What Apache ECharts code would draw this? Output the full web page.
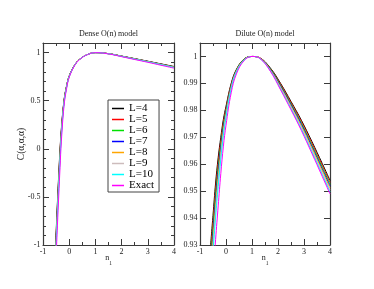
<!DOCTYPE html>
<html>
<head>
<meta charset="utf-8">
<script src="https://cdn.jsdelivr.net/npm/echarts@6/dist/echarts.min.js"></script>
<style>
html,body{margin:0;padding:0;background:#fff;}
#c{width:374px;height:289px;}
</style>
</head>
<body>
<div id="c"></div>
<script>
// ---------- data ----------
const seriesNames = ['L=4','L=5','L=6','L=7','L=8','L=9','L=10','Exact'];
const xTicks = [-1, 0, 1, 2, 3, 4];

const nDense = [-0.55,-0.5,-0.45,-0.4,-0.35,-0.3,-0.2,-0.1,0,0.2,0.4,0.7,1,1.5,2,2.5,3,3.5,4];
const denseL4  = [-1.19,-0.875,-0.56,-0.27,-0.005,0.205,0.50,0.655,0.7575,0.868,0.9315,0.9805,1.0,0.9895,0.964,0.9375,0.9105,0.883,0.8555];
const denseL5  = [-1.216,-0.90,-0.584,-0.292,-0.024,0.192,0.494,0.652,0.756,0.8674,0.9312,0.9804,1.0,0.9892,0.9634,0.9366,0.9094,0.8816,0.8538];
const denseL6  = [-1.242,-0.925,-0.608,-0.314,-0.043,0.179,0.488,0.649,0.7545,0.8668,0.9309,0.9803,1.0,0.9889,0.9628,0.9357,0.9083,0.8802,0.8521];
const denseL7  = [-1.268,-0.95,-0.632,-0.336,-0.062,0.166,0.482,0.646,0.753,0.8662,0.9306,0.9802,1.0,0.9886,0.9622,0.9348,0.9072,0.8788,0.8504];
const denseL8  = [-1.294,-0.975,-0.656,-0.358,-0.081,0.153,0.476,0.643,0.7515,0.8656,0.9303,0.9801,1.0,0.9883,0.9616,0.9339,0.9061,0.8774,0.8487];
const denseL9  = [-1.32,-1.0,-0.68,-0.38,-0.10,0.14,0.47,0.64,0.75,0.865,0.93,0.98,1.0,0.988,0.961,0.933,0.905,0.876,0.847];
const denseL10 = [-1.346,-1.025,-0.704,-0.402,-0.119,0.127,0.464,0.637,0.7485,0.8644,0.9297,0.9799,1.0,0.9877,0.9604,0.9321,0.9039,0.8746,0.8453];
const denseExact = [-1.45,-1.125,-0.80,-0.49,-0.195,0.075,0.44,0.625,0.7425,0.862,0.9285,0.9795,1.0,0.9865,0.958,0.9285,0.8995,0.869,0.8385];

const nDilute = [-0.6,-0.5,-0.4,-0.3,-0.2,-0.1,0,0.2,0.4,0.7,1,1.3,1.7,2.1,2.5,2.9,3.3,3.7,4];
const diluteL4  = [0.929,0.941,0.953,0.9625,0.970,0.9767,0.9815,0.990,0.9952,0.9991,1.0,0.9995,0.9958,0.9900,0.9833,0.9763,0.9685,0.9603,0.954];
const diluteL5  = [0.9265,0.9387,0.9509,0.9607,0.9687,0.9757,0.9808,0.9897,0.9950,0.9990,1.0,0.9995,0.9956,0.9897,0.9829,0.9758,0.9679,0.9596,0.9533];
const diluteL6  = [0.924,0.9364,0.9488,0.9589,0.9673,0.9747,0.9801,0.9893,0.9949,0.9990,1.0,0.9994,0.9955,0.9893,0.9824,0.9752,0.9672,0.9589,0.9526];
const diluteL7  = [0.9215,0.9341,0.9467,0.9571,0.9660,0.9737,0.9794,0.9890,0.9947,0.9989,1.0,0.9994,0.9953,0.9890,0.9820,0.9747,0.9666,0.9582,0.9519];
const diluteL8  = [0.919,0.9318,0.9446,0.9553,0.9646,0.9727,0.9787,0.9886,0.9945,0.9989,1.0,0.9994,0.9951,0.9886,0.9815,0.9741,0.9660,0.9576,0.9511];
const diluteL9  = [0.9165,0.9295,0.9425,0.9535,0.9633,0.9717,0.9780,0.9883,0.9944,0.9988,1.0,0.9994,0.9949,0.9883,0.9811,0.9736,0.9654,0.9569,0.9504];
const diluteL10 = [0.914,0.9272,0.9404,0.9517,0.9619,0.9707,0.9773,0.9879,0.9942,0.9987,1.0,0.9993,0.9948,0.9879,0.9806,0.9730,0.9647,0.9562,0.9497];
const diluteExact = [0.904,0.918,0.932,0.9445,0.9565,0.9667,0.9745,0.9865,0.9935,0.9985,1.0,0.9993,0.9946,0.9876,0.9802,0.9725,0.9641,0.9555,0.949];

// ---------- build ----------
const colors = ['#000000','#ff0000','#00e000','#0000ff','#ffa500','#cdbcbc','#00ffff','#ff00ff'];
const denseSets = [denseL4,denseL5,denseL6,denseL7,denseL8,denseL9,denseL10,denseExact];
const diluteSets = [diluteL4,diluteL5,diluteL6,diluteL7,diluteL8,diluteL9,diluteL10,diluteExact];

const FONT = 'Liberation Serif';
const AX = '#3a3a3a';

function xAx(grid, top, labels) {
  return {
    type: 'value', gridIndex: grid, position: top ? 'top' : 'bottom',
    min: -1, max: 4, interval: 1,
    axisLine: {show: true, onZero: false, lineStyle: {color: AX, width: 1.2}},
    axisTick: {show: true, inside: true, length: 6, lineStyle: {color: AX}},
    minorTick: {show: true, splitNumber: 2, length: 3, lineStyle: {color: AX}},
    splitLine: {show: false},
    axisLabel: {show: labels, margin: 3, fontFamily: FONT, fontSize: 8, color: '#222',
      formatter: v => (xTicks.indexOf(v) >= 0 ? String(v) : '')},
    name: labels ? '{n|n}{s|1}' : '', nameLocation: 'middle', nameGap: 9, nameMoveOverlap: false,
    nameTextStyle: {rich: {n: {fontFamily: FONT, fontSize: 8, color: '#222'}, s: {fontFamily: FONT, fontSize: 5.5, color: '#222', verticalAlign: 'bottom', padding: [0,0,-5,0]}}}
  };
}
function yAx(grid, right, min, max, interval, tickLen, labels, line, fmt) {
  return {
    type: 'value', gridIndex: grid, position: right ? 'right' : 'left',
    min: min, max: max, interval: interval,
    axisLine: {show: line, onZero: false, lineStyle: {color: AX, width: 1.2}},
    axisTick: {show: true, inside: true, length: tickLen, lineStyle: {color: AX}},
    splitLine: {show: false},
    axisLabel: {show: labels, margin: 2.5, fontFamily: FONT, fontSize: 8, color: '#222', showMaxLabel: false, formatter: fmt}
  };
}

const fmtDense = v => { const r = Math.round(v*10)/10; return String(r); };
const fmtDilute = v => { const r = Math.round(v*100)/100; return r === 1 ? '1' : r.toFixed(2); };

const xAxes = [xAx(0,false,true), xAx(0,true,false), xAx(1,false,true), xAx(1,true,false)];
const yAxes = [
  yAx(0,false,-1,1.1,0.5,6,true,true,fmtDense),
  yAx(0,false,-1,1.1,0.1,3,false,false),
  yAx(0,true,-1,1.1,0.5,6,false,true),
  yAx(0,true,-1,1.1,0.1,3,false,false),
  yAx(1,false,0.93,1.005,0.01,6,true,true,fmtDilute),
  yAx(1,true,0.93,1.005,0.01,6,false,true)
];
yAxes[0].name = 'C(α,α,α)';
yAxes[0].nameLocation = 'middle';
yAxes[0].nameGap = 17;
yAxes[0].nameMoveOverlap = false;
yAxes[0].nameTextStyle = {fontFamily: FONT, fontSize: 9.5, color: '#222'};

const series = [];
seriesNames.forEach((nm, k) => {
  series.push({
    name: nm, type: 'line', xAxisIndex: 0, yAxisIndex: 0,
    data: nDense.map((x, i) => [x, denseSets[k][i]]),
    smooth: 0.4, symbol: 'none', clip: true,
    lineStyle: {color: colors[k], width: 1}, itemStyle: {color: colors[k]}
  });
});
seriesNames.forEach((nm, k) => {
  series.push({
    name: nm, type: 'line', xAxisIndex: 2, yAxisIndex: 4,
    data: nDilute.map((x, i) => [x, diluteSets[k][i]]),
    smooth: 0.4, symbol: 'none', clip: true,
    lineStyle: {color: colors[k], width: 1}, itemStyle: {color: colors[k]}
  });
});

const chart = echarts.init(document.getElementById('c'), null, {renderer: 'canvas'});
chart.setOption({
  animation: false,
  backgroundColor: '#fff',
  grid: [
    {left: 43, top: 43, width: 131, height: 202},
    {left: 200, top: 43, width: 130, height: 202}
  ],
  xAxis: xAxes,
  yAxis: yAxes,
  legend: {
    data: seriesNames.map((n, k) => ({name: n, icon: 'path://M0,0 H24 V3 H0 Z',
      itemStyle: {color: colors[k], borderWidth: 0}})),
    orient: 'vertical', left: 108, top: 100,
    itemWidth: 12, itemHeight: 11, itemGap: 0,
    padding: [3, 5, 1, 4],
    borderColor: '#444', borderWidth: 1, borderRadius: 0, backgroundColor: '#fff',
    itemStyle: {borderWidth: 0},
    textStyle: {fontFamily: FONT, fontSize: 11, color: '#000', lineHeight: 11},
    selectedMode: false
  },
  graphic: [
    {type: 'text', x: 108.5, y: 34, style: {text: 'Dense O(n) model', font: '8px "Liberation Serif"', fill: '#222', textAlign: 'center', textVerticalAlign: 'middle'}},
    {type: 'text', x: 265, y: 34, style: {text: 'Dilute O(n) model', font: '8px "Liberation Serif"', fill: '#222', textAlign: 'center', textVerticalAlign: 'middle'}}
  ],
  series: series
});
</script>
</body>
</html>
